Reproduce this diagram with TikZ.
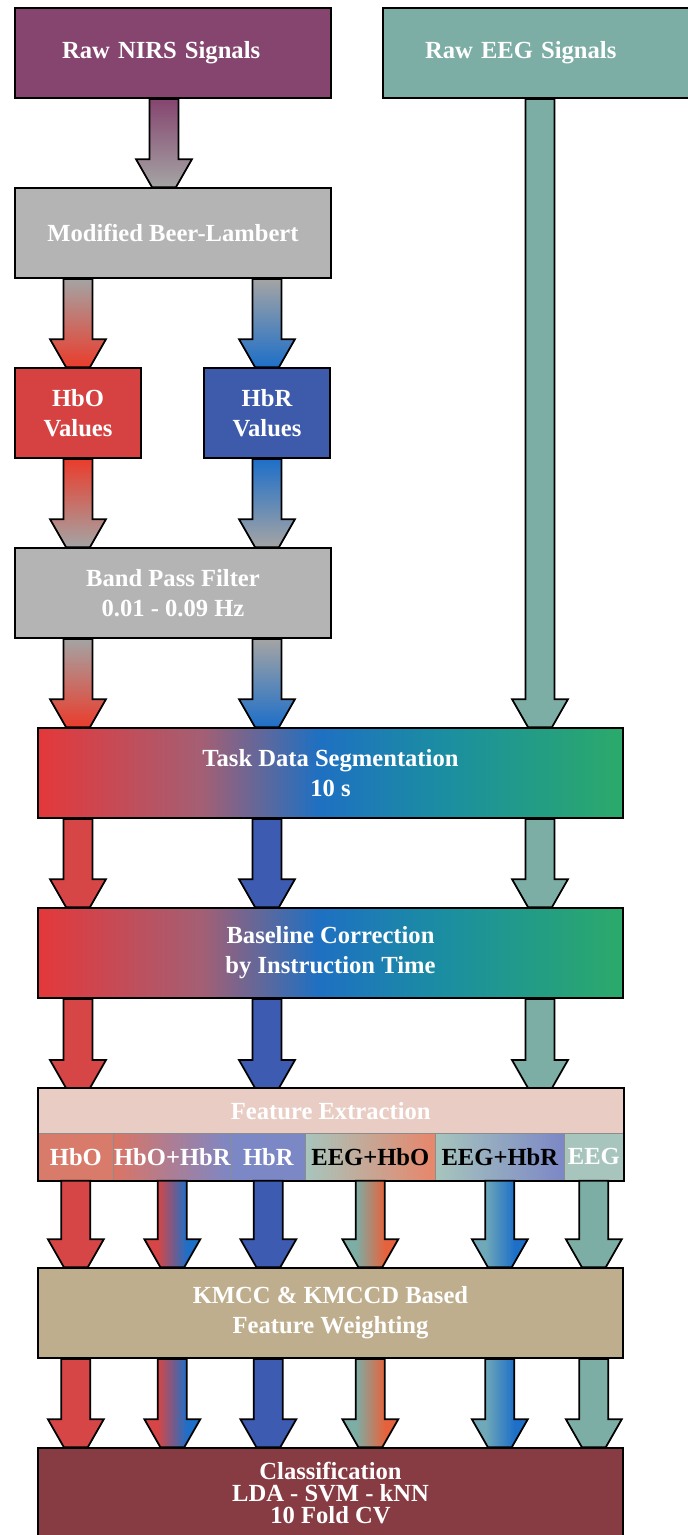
\documentclass[tikz,border=0pt]{standalone}
\usepackage{fontspec}
\setmainfont{Liberation Serif}
\usetikzlibrary{calc}

\definecolor{nirspurple}{HTML}{85456F}
\definecolor{eegteal}{HTML}{7CAEA6}
\definecolor{boxgray}{HTML}{B4B4B4}
\definecolor{arrgray}{HTML}{A4A4A4}
\definecolor{hbored}{HTML}{D64242}
\definecolor{hbrblue}{HTML}{3E5BAB}
\definecolor{hotred}{HTML}{EA3C2C}
\definecolor{hotblue}{HTML}{1E6FC8}
\definecolor{hotorange}{HTML}{E6623C}
\definecolor{tealblue}{HTML}{6FA8B8}
\definecolor{arrred}{HTML}{D64646}
\definecolor{arrblue}{HTML}{3D5BB0}
\definecolor{segred}{HTML}{E4383A}
\definecolor{segmauve}{HTML}{A45F74}
\definecolor{segblue}{HTML}{1E70C2}
\definecolor{segteal}{HTML}{1B8FA0}
\definecolor{seggreen}{HTML}{2BAA6A}
\definecolor{fepink}{HTML}{E9CDC5}
\definecolor{fesalmon}{HTML}{D97B6B}
\definecolor{feorange}{HTML}{E8866A}
\definecolor{felavender}{HTML}{7C87C6}
\definecolor{fesage}{HTML}{A7C5BD}
\definecolor{kmcctan}{HTML}{BFAE8D}
\definecolor{clfred}{HTML}{873B42}

\pgfdeclarehorizontalshading{segshade}{100bp}{color(0bp)=(segred); color(25bp)=(segred);
  color(39bp)=(segmauve); color(49bp)=(segblue); color(60bp)=(segteal);
  color(75bp)=(seggreen); color(100bp)=(seggreen)}
% shaft of a block arrow covers 37bp..63bp of these
\pgfdeclarehorizontalshading{hbohbrmix}{100bp}{color(0bp)=(arrred); color(37bp)=(arrred);
  color(63bp)=(hotblue); color(100bp)=(hotblue)}
\pgfdeclarehorizontalshading{eeghbomix}{100bp}{color(0bp)=(eegteal); color(37bp)=(eegteal);
  color(63bp)=(hotorange); color(100bp)=(hotorange)}
\pgfdeclarehorizontalshading{eeghbrmix}{100bp}{color(0bp)=(tealblue); color(37bp)=(tealblue);
  color(63bp)=(hotblue); color(100bp)=(hotblue)}

\tikzset{
  box/.style={draw, line width=1pt, minimum height=1.8cm, align=center, text=white,
    font=\fontsize{14}{17}\selectfont\bfseries},
  widebox/.style={box, minimum width=11.7cm},
  cell/.style={draw=black!45, line width=0.4pt, anchor=north west, minimum height=0.94cm,
    inner xsep=0pt, font=\fontsize{14}{17}\selectfont\bfseries},
  flow/.style={draw, line width=1pt, line join=miter},
  blockarrow/.style={to path={let \p1=(\tikztostart), \p2=(\tikztotarget) in
      (\x1-0.29cm,\y1) -- (\x1-0.29cm,\y2+0.56cm) -- (\x1-0.56cm,\y2+0.56cm)
      -- (\x1-0.24cm,\y2) -- (\x1+0.24cm,\y2) -- (\x1+0.56cm,\y2+0.56cm)
      -- (\x1+0.29cm,\y2+0.56cm) -- (\x1+0.29cm,\y1) -- cycle}},
  % streams below the feature extraction
  hbostream/.style={fill=arrred},
  hbrstream/.style={fill=arrblue},
  eegstream/.style={fill=eegteal},
  mixhbohbr/.style={shade, shading=hbohbrmix},
  mixeeghbo/.style={shade, shading=eeghbomix},
  mixeeghbr/.style={shade, shading=eeghbrmix},
}

\begin{document}
\begin{tikzpicture}[x=0.02cm, y=-0.02cm]
  \useasboundingbox (0,0) rectangle (688,1535);

  % inputs
  \node[box, fill=nirspurple, minimum width=6.32cm, text width=4.44cm, inner xsep=0.94cm, align=left] (nirs) at (173,53) {Raw NIRS Signals};
  \node[box, fill=eegteal, minimum width=6.28cm, text width=4.6cm, inner xsep=0.84cm, align=left] (eeg) at (540,53) {Raw EEG Signals};

  % NIRS preprocessing
  \node[box, fill=boxgray, minimum width=6.32cm] (mbl) at (173,233) {Modified Beer-Lambert};
  \node[box, fill=hbored, minimum width=2.52cm] (hbo) at (78,413) {HbO\\Values};
  \node[box, fill=hbrblue, minimum width=2.52cm] (hbr) at (267,413) {HbR\\Values};
  \node[box, fill=boxgray, minimum width=6.32cm] (bpf) at (173,593) {Band Pass Filter\\0.01 - 0.09 Hz};

  \node[widebox, shade, shading=segshade] (seg) at (330.5,773) {Task Data Segmentation\\10 s};
  \node[widebox, shade, shading=segshade] (base) at (330.5,953) {Baseline Correction\\by Instruction Time};

  % feature extraction
  \node[cell, draw=none, fill=fepink, minimum width=11.7cm, minimum height=0.9cm, text=white] (feh) at (38,1088) {Feature Extraction};
  \node[cell, fill=fesalmon, minimum width=1.5cm, text=white] (fe1) at (38,1133) {HbO};
  \node[cell, left color=fesalmon!90!hotred, right color=felavender, minimum width=2.36cm, text=white] (fe2) at (113,1133) {HbO+HbR};
  \node[cell, fill=felavender, minimum width=1.48cm, text=white] (fe3) at (231,1133) {HbR};
  \node[cell, left color=fesage, right color=feorange, minimum width=2.6cm] (fe4) at (305,1133) {EEG+HbO};
  \node[cell, left color=fesage, right color=felavender, minimum width=2.58cm] (fe5) at (435,1133) {EEG+HbR};
  \node[cell, fill=fesage, minimum width=1.18cm, text=white] (fe6) at (564,1133) {EEG};
  \draw[line width=1pt] (feh.north west) rectangle (fe6.south east);

  \node[widebox, fill=kmcctan] (kmcc) at (330.5,1313) {KMCC \& KMCCD Based\\Feature Weighting};
  \node[widebox, fill=clfred, font=\fontsize{14}{12.5}\selectfont\bfseries] (clf) at (330.5,1493) {Classification\\LDA - SVM - kNN\\10 Fold CV};

  % arrows
  \draw[flow, top color=nirspurple, bottom color=arrgray] ([xshift=-0.18cm]nirs.south) to[blockarrow] (mbl.north);
  \draw[flow, top color=arrgray, middle color=arrgray, bottom color=hotred] (hbo |- mbl.south) to[blockarrow] (hbo.north);
  \draw[flow, top color=arrgray, middle color=arrgray, bottom color=hotblue] (hbr |- mbl.south) to[blockarrow] (hbr.north);
  \draw[flow, top color=hotred, bottom color=arrgray] (hbo.south) to[blockarrow] (bpf.north);
  \draw[flow, top color=hotblue, bottom color=arrgray] (hbr.south) to[blockarrow] (bpf.north);
  \draw[flow, top color=arrgray, middle color=arrgray, bottom color=hotred] (hbo |- bpf.south) to[blockarrow] (seg.north);
  \draw[flow, top color=arrgray, middle color=arrgray, bottom color=hotblue] (hbr |- bpf.south) to[blockarrow] (seg.north);
  \draw[flow, fill=eegteal] (eeg.south) to[blockarrow] (seg.north);

  \foreach \src/\col in {hbo/arrred, hbr/arrblue, eeg/eegteal} {
    \draw[flow, fill=\col] (\src |- seg.south) to[blockarrow] (base.north);
    \draw[flow, fill=\col] (\src |- base.south) to[blockarrow] (feh.north);
  }

  \foreach \cell/\kind in {fe1/hbostream, fe2/mixhbohbr, fe3/hbrstream, fe4/mixeeghbo, fe5/mixeeghbr, fe6/eegstream} {
    \draw[flow, \kind] (\cell.south) to[blockarrow] (kmcc.north);
    \draw[flow, \kind] (\cell |- kmcc.south) to[blockarrow] (clf.north);
  }
\end{tikzpicture}
\end{document}
